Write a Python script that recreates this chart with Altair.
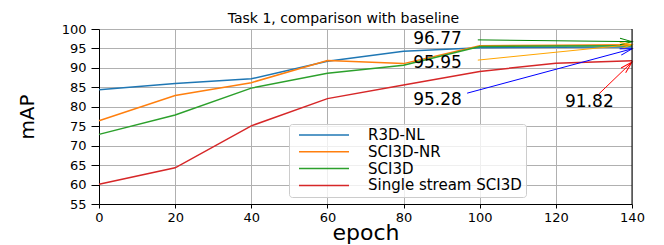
import math
import altair as alt
import pandas as pd

FONT = "DejaVu Sans"

epochs = [0, 20, 40, 60, 80, 100, 120, 140]
series_names = ["R3D-NL", "SCI3D-NR", "SCI3D", "Single stream SCI3D"]
r3d_nl = [84.4, 86.0, 87.2, 91.7, 94.3, 95.2, 95.3, 95.4]
sci3d_nr = [76.4, 82.9, 86.2, 91.9, 91.1, 95.7, 95.8, 95.95]
sci3d = [72.9, 77.9, 84.8, 88.6, 90.7, 95.5, 95.6, 95.7]
single = [60.1, 64.3, 75.1, 82.1, 85.6, 89.1, 91.2, 91.82]
line_colors = ["#1f77b4", "#ff7f0e", "#2ca02c", "#d62728"]

# annotations
ann_text = ["96.77", "95.95", "95.28", "91.82"]
ann_tx = [88.9, 88.9, 88.9, 128.8]
ann_ty = [97.55, 91.26, 81.74, 81.2]
arr_x1 = [99.5, 99.5, 96.7, 131.3]
arr_y1 = [97.2, 92.0, 83.5, 83.3]
arr_x2 = [140, 140, 140, 140]
arr_y2 = [96.75, 96.0, 94.9, 91.5]
arr_colors = ["green", "orange", "blue", "red"]

y_ticks = [55, 60, 65, 70, 75, 80, 85, 90, 95, 100]

W, H = 533, 175
XMIN, XMAX, YMIN, YMAX = 0, 140, 55, 100

rows = []
for name, vals in zip(series_names, [r3d_nl, sci3d_nr, sci3d, single]):
    for e, v in zip(epochs, vals):
        rows.append({"epoch": e, "mAP": v, "series": name})
df = pd.DataFrame(rows)

kx = W / (XMAX - XMIN)
ky = H / (YMAX - YMIN)
angles = []
for x1, y1, x2, y2 in zip(arr_x1, arr_y1, arr_x2, arr_y2):
    a = math.degrees(math.atan2(-(y2 - y1) * ky, (x2 - x1) * kx)) % 360
    angles.append(a)

ann = pd.DataFrame({
    "text": ann_text, "tx": ann_tx, "ty": ann_ty,
    "x1": arr_x1, "y1": arr_y1, "x2": arr_x2, "y2": arr_y2,
    "col": arr_colors, "angle": angles,
})

xscale = alt.Scale(domain=[XMIN, XMAX], nice=False, zero=False)
yscale = alt.Scale(domain=[YMIN, YMAX], nice=False, zero=False)

x_axis = alt.Axis(values=epochs, title="epoch", titleFontSize=22,
                  titleFont=FONT, titleFontWeight="normal",
                  titleColor="black", titleBaseline="alphabetic",
                  titleY=35, labelFontSize=13, labelFont=FONT,
                  labelColor="black", tickSize=4, labelPadding=3,
                  domainColor="black", tickColor="black",
                  gridColor="#b0b0b0", gridWidth=1, gridOpacity=1,
                  labelFlush=False, labelOverlap=False)
y_axis = alt.Axis(values=y_ticks, title="mAP",
                  titleFontSize=20, titleFont=FONT,
                  titleFontWeight="normal", titleColor="black",
                  titleX=-72, titleY=H / 2, titleAlign="center",
                  titleBaseline="middle", titleAngle=270,
                  labelFontSize=13, labelFont=FONT, labelColor="black",
                  tickSize=8, labelPadding=5, domainColor="black",
                  tickColor="black", gridColor="#b0b0b0", gridWidth=1,
                  gridOpacity=1, labelOverlap=False, labelFlush=False)


def X(f):
    return alt.X(f, scale=xscale, axis=x_axis, title="epoch")


def Y(f):
    return alt.Y(f, scale=yscale, axis=y_axis, title="mAP")


lines = alt.Chart(df).mark_line(strokeWidth=1.5).encode(
    x=X("epoch:Q"),
    y=Y("mAP:Q"),
    color=alt.Color("series:N",
                    scale=alt.Scale(domain=series_names, range=line_colors),
                    sort=series_names,
                    legend=alt.Legend(
                        title=None, orient="none", legendX=190, legendY=95,
                        symbolType="stroke", symbolSize=2500,
                        symbolStrokeWidth=1.5, clipHeight=15, rowPadding=0.8,
                        padding=3.5, symbolOffset=5.5, labelOffset=18,
                        labelFontSize=15, labelFont=FONT, labelColor="black",
                        labelLimit=500, fillColor="rgba(255,255,255,0.8)",
                        strokeColor="#cccccc", cornerRadius=3)),
)

arrows = alt.Chart(ann).mark_rule(strokeWidth=1).encode(
    x=X("x1:Q"), y=Y("y1:Q"), x2="x2:Q", y2="y2:Q",
    color=alt.Color("col:N", scale=None),
)

heads = alt.Chart(ann).mark_point(
    shape="M -2 -0.55 L 0 0 L -2 0.55", filled=False, size=144, strokeWidth=1,
    opacity=1,
).encode(
    x=X("x2:Q"), y=Y("y2:Q"),
    angle=alt.Angle("angle:Q", scale=None),
    color=alt.Color("col:N", scale=None),
)

texts = alt.Chart(ann).mark_text(
    fontSize=17, font=FONT, color="black", align="center", baseline="middle"
).encode(x=X("tx:Q"), y=Y("ty:Q"), text="text:N")

frame = alt.Chart(pd.DataFrame({"x": [XMAX], "y": [YMIN], "y2": [YMAX]})).mark_rule(
    color="black", strokeWidth=1
).encode(x=X("x:Q"), y=Y("y:Q"), y2="y2:Q")

chart = alt.layer(lines, arrows, heads, texts, frame).resolve_scale(
    color="independent"
).properties(
    width=W, height=H,
    title=alt.TitleParams("Task 1, comparison with baseline", fontSize=14,
                          font=FONT, fontWeight="normal", color="black",
                          anchor="middle", dx=-22, dy=7, offset=4),
    autosize="none",
    padding={"left": 91, "top": 21, "right": 24, "bottom": 45},
).configure_view(stroke=None).configure_axis(labelOverlap=False)

chart.save("out.html", embed_options={"renderer": "svg", "actions": False})
